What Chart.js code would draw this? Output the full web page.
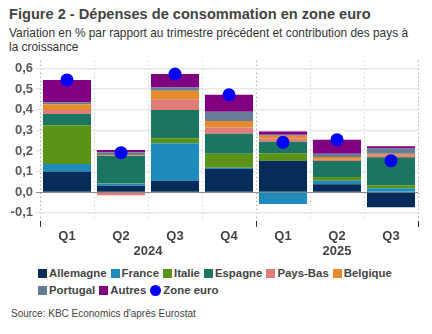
<!DOCTYPE html>
<html><head><meta charset="utf-8">
<script src="https://cdn.jsdelivr.net/npm/chart.js@4.4.1/dist/chart.umd.min.js"></script>
<style>
html,body{margin:0;padding:0;background:#fff;}
body{width:432px;height:334px;position:relative;overflow:hidden;font-family:"Liberation Sans",Arial,sans-serif;}
#title{position:absolute;left:9px;top:6px;font-size:14.6px;font-weight:bold;color:#444;white-space:nowrap;}
#sub{position:absolute;left:9px;top:26px;width:420px;font-size:11.9px;line-height:14px;color:#333;white-space:nowrap;}
#wrap{position:absolute;left:0;top:50px;width:432px;height:215px;}
#legend{position:absolute;left:38px;top:265px;width:390px;font-size:11.4px;font-weight:bold;color:#444;line-height:17px;}
#legend span.it{display:inline-block;margin-right:4px;white-space:nowrap;}
#legend i{display:inline-block;width:9px;height:9px;margin-right:2px;vertical-align:-0.5px;}
#legend i.c{width:11px;height:11px;border-radius:50%;vertical-align:-1.5px;}
#src{position:absolute;left:11px;top:308px;font-size:10px;color:#444;}
</style></head>
<body>
<div id="title">Figure 2 - Dépenses de consommation en zone euro</div>
<div id="sub">Variation en % par rapport au trimestre précédent et contribution des pays à<br>la croissance</div>
<div id="wrap"><canvas id="c" width="432" height="215"></canvas></div>
<div id="legend"></div>
<div id="src">Source: KBC Economics d'après Eurostat</div>
<script>
const categories = ['Q1','Q2','Q3','Q4','Q1','Q2','Q3'];
const yearLabels = ['2024','2025'];
const yearCenters = [2, 5.5];
const yTicks = [-0.1, 0, 0.1, 0.2, 0.3, 0.4, 0.5, 0.6];

const allemagne = [0.100, 0.031, 0.055, 0.113, 0.152, 0.038, -0.073];
const france    = [0.037, 0.011, 0.182, 0.006, -0.057, 0.017, 0.019];
const italie    = [0.188, 0.003, 0.025, 0.068, 0.037, 0.019, 0.015];
const espagne   = [0.055, 0.131, 0.137, 0.097, 0.056, 0.077, 0.136];
const paysBas   = [0.019, -0.015, 0.052, 0.030, 0.015, 0.006, 0.009];
const belgique  = [0.028, 0.003, 0.042, 0.032, 0.014, 0.014, 0.008];
const portugal  = [0.010, 0.015, 0.015, 0.045, 0.005, 0.016, 0.025];
const autres    = [0.108, 0.011, 0.066, 0.082, 0.016, 0.068, 0.011];
const zoneEuro  = [0.545, 0.192, 0.574, 0.473, 0.242, 0.255, 0.152];

const series = [
  ['Allemagne', allemagne, '#072c59'],
  ['France', france, '#1f8bbd'],
  ['Italie', italie, '#5b9318'],
  ['Espagne', espagne, '#1b7560'],
  ['Pays-Bas', paysBas, '#e07d78'],
  ['Belgique', belgique, '#e68a2e'],
  ['Portugal', portugal, '#667d99'],
  ['Autres', autres, '#810081']
];
const zoneColor = '#0000ff';

const datasets = series.map(s => ({
  type:'bar', label:s[0], data:s[1], backgroundColor:s[2], borderWidth:0,
  barPercentage:0.89, categoryPercentage:1.0, order:1
}));
datasets.push({
  type:'line', label:'Zone euro', data:zoneEuro, showLine:false, stack:'ze',
  pointRadius:6.5, pointHoverRadius:6.5, pointBackgroundColor:zoneColor, pointBorderWidth:0,
  backgroundColor:zoneColor, borderColor:zoneColor, order:0
});

const yearIdx = i => (i === 0 || i === 4 || i === undefined || i >= categories.length);

new Chart(document.getElementById('c'), {
  data:{labels:categories, datasets:datasets},
  options:{
    responsive:false, animation:false, events:[],
    layout:{padding:{top:7,right:14,left:0,bottom:0}},
    plugins:{legend:{display:false}, tooltip:{enabled:false}},
    scales:{
      x:{
        type:'category', stacked:true, offset:true,
        grid:{offset:true, display:true, drawOnChartArea:true, drawTicks:true, tickLength:6, lineWidth:1,
          color: ctx => yearIdx(ctx.index) ? '#8a8a8a' : '#bdbdbd',
          tickColor: ctx => yearIdx(ctx.index) ? '#333' : 'rgba(0,0,0,0)'},
        border:{display:false, dash:[1,3]},
        ticks:{color:'#444', font:{family:'"Liberation Sans", Arial, sans-serif', size:13, weight:'bold'}, padding:2, maxRotation:0, autoSkip:false},
        afterFit: s => { s.height = 22; }
      },
      x2:{
        type:'linear', position:'bottom', min:0, max:7,
        grid:{display:false, drawTicks:false},
        border:{display:false},
        afterBuildTicks: s => { s.ticks = yearCenters.map(v => ({value:v})); },
        ticks:{color:'#444', font:{family:'"Liberation Sans", Arial, sans-serif', size:13, weight:'bold'}, padding:1, maxRotation:0, autoSkip:false,
          callback: (v) => { const k = yearCenters.indexOf(v); return k >= 0 ? yearLabels[k] : ''; }},
        afterFit: s => { s.height = 22; }
      },
      y:{
        type:'linear', stacked:true, min:-0.14, max:0.638,
        afterBuildTicks: s => { s.ticks = yTicks.map(v => ({value:v})); },
        grid:{color: ctx => (ctx.tick && Math.abs(ctx.tick.value) < 1e-9) ? '#8c8c8c' : '#e8e8e8',
          lineWidth: ctx => (ctx.tick && Math.abs(ctx.tick.value) < 1e-9) ? 1 : 1.5,
          drawTicks:true, tickLength:4},
        border:{display:false},
        ticks:{color:'#595959', font:{family:'"Liberation Sans", Arial, sans-serif', size:13, weight:'bold'}, padding:3,
          callback: v => v.toFixed(1).replace('.', ',')},
        afterFit: s => { s.width = 40; }
      }
    }
  }
});

// HTML legend built from the same series
const lg = document.getElementById('legend');
const items = series.map(s => '<span class="it"><i style="background:' + s[2] + '"></i>' + s[0] + '</span>');
items.push('<span class="it"><i class="c" style="background:' + zoneColor + '"></i>Zone euro</span>');
lg.innerHTML = items.slice(0,6).join('') + '<br>' + items.slice(6).join('');
</script>
</body></html>
